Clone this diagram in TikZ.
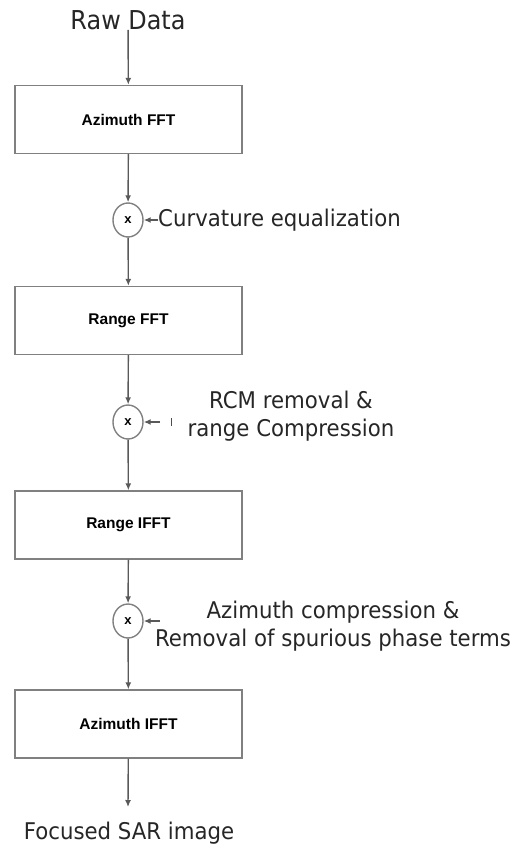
\documentclass[tikz,border=0pt]{standalone}
\usepackage{fontspec}
\setmainfont{Liberation Sans}
\newfontfamily\lblfont[FakeStretch=0.925]{DejaVu Sans}
\newfontfamily\titlefont[FakeStretch=0.92]{DejaVu Sans}
\usetikzlibrary{arrows.meta,shapes.geometric}
\begin{document}
\begin{tikzpicture}[x=1pt,y=1pt,
  stage/.style={draw=black!50, line width=1.4pt, minimum width=227pt,
    minimum height=68pt, inner sep=0pt, text=black,
    font=\bfseries\fontsize{15.5}{18}\selectfont},
  mult/.style={ellipse, draw=black!50, line width=1.4pt, minimum width=30pt,
    minimum height=34pt, inner sep=0pt, font=\bfseries\fontsize{13}{14}\selectfont},
  conn/.style={draw=black!65, line width=1.4pt, -{Latex[length=7pt,width=6pt]}},
  note/.style={font=\lblfont\fontsize{23}{28}\selectfont, text=black!85, inner sep=0pt}
]
\useasboundingbox (0,0) rectangle (512,-846);

% input and processing stages
\node[note, font=\titlefont\fontsize{26}{30}\selectfont] (raw) at (128,-20) {Raw Data};
\node[stage] (b1) at (128.5,-119.5) {Azimuth FFT};
\node[mult]  (c1) at (128,-220) {x};
\node[stage] (b2) at (128.5,-320.5) {Range FFT};
\node[mult]  (c2) at (128,-422) {x};
\node[stage] (b3) at (128.5,-525) {Range IFFT};
\node[mult]  (c3) at (128,-621) {x};
\node[stage] (b4) at (128.5,-724) {Azimuth IFFT};
\coordinate (out) at (128,-807);
\node[note] (foc) at (129,-833) {Focused SAR image};

% phase multipliers fed from the right
\node[note, anchor=west] (curv) at (158,-220) {Curvature equalization};
\node[note, align=center] (rcm) at (291,-416) {RCM removal \&\\range Compression};
\coordinate (rcmin) at (160,-422);
\node[note, align=center] (azc) at (333,-626) {Azimuth compression \&\\Removal of spurious phase terms};
\coordinate (azin) at (160,-621);

% main signal path
\draw[conn] (raw) -- (b1);
\draw[conn] (b1) -- (c1);
\draw[conn] (c1) -- (b2);
\draw[conn] (b2) -- (c2);
\draw[conn] (c2) -- (b3);
\draw[conn] (b3) -- (c3);
\draw[conn] (c3) -- (b4);
\draw[conn] (b4) -- (out);

% side inputs
\draw[conn] (curv.west) -- (c1.east);
\draw[conn] (rcmin) -- (c2.east);
\draw[black!70, line width=1pt] (171,-418) -- (171,-426);
\draw[conn] (azin) -- (c3.east);
\end{tikzpicture}
\end{document}
